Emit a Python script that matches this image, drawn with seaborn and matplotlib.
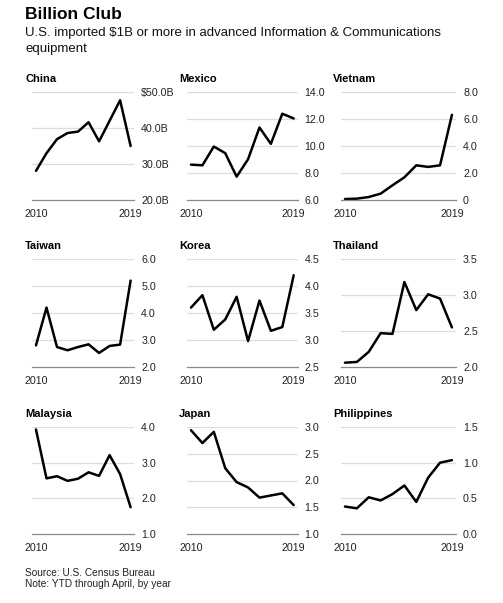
# Billion Club - U.S. imports of advanced ICT equipment, small multiples
import matplotlib
matplotlib.use("Agg")
import matplotlib.pyplot as plt
import seaborn as sns
import pandas as pd

years = list(range(2010, 2020))

# values ($ billions)
china = [28.1, 33.0, 36.9, 38.6, 39.0, 41.6, 36.3, 42.0, 47.7, 35.0]
mexico = [8.62, 8.57, 9.96, 9.47, 7.73, 9.02, 11.37, 10.16, 12.39, 12.04]
vietnam = [0.07, 0.10, 0.22, 0.47, 1.09, 1.68, 2.57, 2.45, 2.57, 6.31]
taiwan = [2.80, 4.20, 2.74, 2.62, 2.74, 2.84, 2.52, 2.78, 2.83, 5.20]
korea = [3.60, 3.83, 3.19, 3.38, 3.80, 2.98, 3.73, 3.17, 3.24, 4.20]
thailand = [2.06, 2.07, 2.21, 2.47, 2.46, 3.18, 2.79, 3.01, 2.95, 2.55]
malaysia = [3.93, 2.56, 2.62, 2.49, 2.55, 2.73, 2.63, 3.21, 2.68, 1.75]
japan = [2.94, 2.70, 2.91, 2.23, 1.97, 1.87, 1.68, 1.72, 1.76, 1.54]
philippines = [0.385, 0.36, 0.515, 0.47, 0.56, 0.68, 0.45, 0.79, 1.00, 1.035]

countries = ["China", "Mexico", "Vietnam", "Taiwan", "Korea", "Thailand",
             "Malaysia", "Japan", "Philippines"]
series = [china, mexico, vietnam, taiwan, korea, thailand, malaysia, japan, philippines]

# y ticks and labels per panel
yticks = [
    [20, 30, 40, 50],
    [6, 8, 10, 12, 14],
    [0, 2, 4, 6, 8],
    [2, 3, 4, 5, 6],
    [2.5, 3.0, 3.5, 4.0, 4.5],
    [2.0, 2.5, 3.0, 3.5],
    [1, 2, 3, 4],
    [1.0, 1.5, 2.0, 2.5, 3.0],
    [0.0, 0.5, 1.0, 1.5],
]
ylabels = [
    ["20.0B", "30.0B", "40.0B", "$50.0B"],
    ["6.0", "8.0", "10.0", "12.0", "14.0"],
    ["0", "2.0", "4.0", "6.0", "8.0"],
    ["2.0", "3.0", "4.0", "5.0", "6.0"],
    ["2.5", "3.0", "3.5", "4.0", "4.5"],
    ["2.0", "2.5", "3.0", "3.5"],
    ["1.0", "2.0", "3.0", "4.0"],
    ["1.0", "1.5", "2.0", "2.5", "3.0"],
    ["0.0", "0.5", "1.0", "1.5"],
]

sns.set_style("white")
plt.rcParams["font.family"] = ["Liberation Sans", "DejaVu Sans"]

W, H = 503, 603
fig = plt.figure(figsize=(W / 100, H / 100), dpi=100)

# pixel layout: (left, width) per column, (top, bottom) per row
cols = [(32.3, 102.0), (187.0, 110.7), (340.8, 115.3)]
rows = [(92, 200), (259, 367), (427, 534)]
title_x = [25, 179, 333]

fig.text(25 / W, 1 - 19 / H, "Billion Club", fontsize=12.5, fontweight="bold",
         color="black", va="baseline")
fig.text(25 / W, 1 - 36 / H, "U.S. imported $1B or more in advanced Information & Communications",
         fontsize=9.5, color="#111111", va="baseline")
fig.text(25 / W, 1 - 52 / H, "equipment", fontsize=9.5, color="#111111", va="baseline")

for i, name in enumerate(countries):
    r, c = divmod(i, 3)
    left, width = cols[c]
    top, bottom = rows[r]
    ax = fig.add_axes([left / W, 1 - bottom / H, width / W, (bottom - top) / H])
    df = pd.DataFrame({"year": years, "value": series[i]})
    sns.lineplot(data=df, x="year", y="value", ax=ax, color="black", linewidth=1.8)

    ax.set_xlim(2009.65, 2019.35)
    ax.set_ylim(yticks[i][0], yticks[i][-1])
    ax.set_xticks([2010, 2019])
    ax.set_xticklabels(["2010", "2019"])
    ax.set_yticks(yticks[i])
    ax.set_yticklabels(ylabels[i])
    ax.yaxis.tick_right()
    ax.tick_params(axis="y", length=0, pad=5, labelsize=7.7, labelcolor="#222222")
    ax.tick_params(axis="x", direction="inout", length=5, width=0.8, color="#777777",
                   pad=4, labelsize=7.7, labelcolor="#222222")
    for t in yticks[i][1:]:
        ax.axhline(t, color="#dddddd", linewidth=0.9, zorder=0)
    for side in ["top", "left", "right"]:
        ax.spines[side].set_visible(False)
    ax.spines["bottom"].set_color("#888888")
    ax.spines["bottom"].set_linewidth(0.9)
    ax.set_xlabel("")
    ax.set_ylabel("")
    ax.patch.set_alpha(0)

    fig.text(title_x[c] / W, 1 - (top - 13) / H, name, fontsize=8, fontweight="bold",
             color="black", va="center")

fig.text(25 / W, 1 - 576 / H, "Source: U.S. Census Bureau", fontsize=7.3, color="#222222",
         va="baseline")
fig.text(25 / W, 1 - 587 / H, "Note: YTD through April, by year", fontsize=7.3, color="#222222",
         va="baseline")

fig.savefig("out.png", dpi=100)
